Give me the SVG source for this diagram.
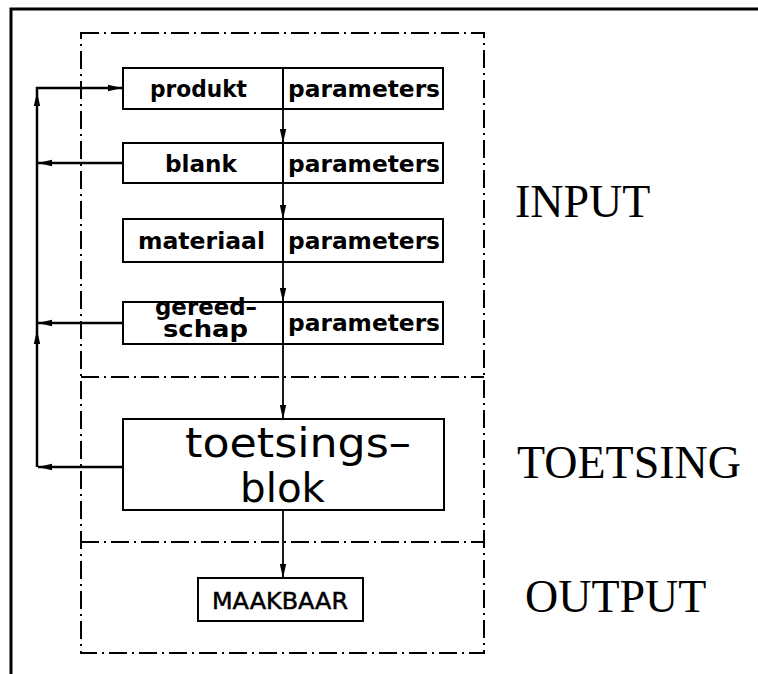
<svg xmlns="http://www.w3.org/2000/svg" width="758" height="674" viewBox="0 0 758 674">
  <style>
    .frame { fill: none; stroke: #000; stroke-width: 3; }
    .zone { fill: none; stroke: #000; stroke-width: 2; stroke-dasharray: 18 5 2 5; }
    .box { fill: #fff; stroke: #000; stroke-width: 2; }
    .cell { stroke: #000; stroke-width: 2; }
    .wire { fill: none; stroke: #000; stroke-width: 2.5; }
    .flow { fill: none; stroke: #000; stroke-width: 1.8; }
    .lbl { font-family: "DejaVu Sans", "Liberation Sans", sans-serif; font-weight: bold; font-size: 23px; fill: #000; }
    .big { font-family: "DejaVu Sans", "Liberation Sans", sans-serif; font-size: 40px; fill: #000; }
    .out { font-family: "DejaVu Sans", "Liberation Sans", sans-serif; font-size: 23px; fill: #000; stroke: #000; stroke-width: 0.5; }
    .zone-name { font-family: "Liberation Serif", "Times New Roman", serif; font-size: 46px; fill: #000; }
  </style>
  <defs>
    <marker id="arrow" viewBox="0 0 14 8" refX="14" refY="4" markerWidth="14" markerHeight="8" markerUnits="userSpaceOnUse" orient="auto">
      <path d="M0,0.8 L14,4 L0,7.2 Z" fill="#000"/>
    </marker>
  </defs>

  <rect width="758" height="674" fill="#fff"/>

  <!-- page frame (left and top edges) -->
  <path class="frame" d="M11,674 V9 H758"/>

  <!-- zone outline and dividers -->
  <g id="zones">
    <rect class="zone" x="81" y="33" width="403" height="620"/>
    <line class="zone" x1="81" y1="377" x2="484" y2="377"/>
    <line class="zone" x1="81" y1="542" x2="484" y2="542"/>
  </g>

  <!-- connectors -->
  <g id="connectors">
    <!-- feedback loop on the left -->
    <path class="wire" d="M37,467 V330" marker-end="url(#arrow)"/>
    <path class="wire" d="M37,330 V92" marker-end="url(#arrow)"/>
    <path class="wire" d="M37,92 V88 H122" marker-end="url(#arrow)"/>
    <path class="wire" d="M123,163 H38" marker-end="url(#arrow)"/>
    <path class="wire" d="M123,323 H38" marker-end="url(#arrow)"/>
    <path class="wire" d="M123,467 H38" marker-end="url(#arrow)"/>
    <!-- downward flow through the blocks -->
    <path class="flow" d="M283,109 V143" marker-end="url(#arrow)"/>
    <path class="flow" d="M283,183 V219" marker-end="url(#arrow)"/>
    <path class="flow" d="M283,262 V302" marker-end="url(#arrow)"/>
    <path class="flow" d="M283,344 V419" marker-end="url(#arrow)"/>
    <path class="flow" d="M283,510 V578" marker-end="url(#arrow)"/>
  </g>

  <g id="produkt">
    <rect class="box" x="123" y="68" width="320" height="41"/>
    <line class="cell" x1="283" y1="68" x2="283" y2="109"/>
    <text class="lbl" x="150" y="97" textLength="97" lengthAdjust="spacingAndGlyphs">produkt</text>
    <text class="lbl" x="288" y="97" textLength="152" lengthAdjust="spacingAndGlyphs">parameters</text>
  </g>

  <g id="blank">
    <rect class="box" x="123" y="143" width="320" height="40"/>
    <line class="cell" x1="283" y1="143" x2="283" y2="183"/>
    <text class="lbl" x="165" y="172" textLength="72" lengthAdjust="spacingAndGlyphs">blank</text>
    <text class="lbl" x="288" y="172" textLength="152" lengthAdjust="spacingAndGlyphs">parameters</text>
  </g>

  <g id="materiaal">
    <rect class="box" x="123" y="219" width="320" height="43"/>
    <line class="cell" x1="283" y1="219" x2="283" y2="262"/>
    <text class="lbl" x="138" y="249" textLength="127" lengthAdjust="spacingAndGlyphs">materiaal</text>
    <text class="lbl" x="288" y="249" textLength="152" lengthAdjust="spacingAndGlyphs">parameters</text>
  </g>

  <g id="gereedschap">
    <rect class="box" x="123" y="302" width="320" height="42"/>
    <line class="cell" x1="283" y1="302" x2="283" y2="344"/>
    <text class="lbl" x="155" y="315" font-size="16" textLength="102" lengthAdjust="spacingAndGlyphs">gereed–</text>
    <text class="lbl" x="163" y="337" font-size="18" textLength="85" lengthAdjust="spacingAndGlyphs">schap</text>
    <text class="lbl" x="288" y="331" textLength="152" lengthAdjust="spacingAndGlyphs">parameters</text>
  </g>

  <g id="toetsingsblok">
    <rect class="box" x="123" y="419" width="321" height="91"/>
    <text class="big" x="185" y="457" textLength="226" lengthAdjust="spacingAndGlyphs">toetsings–</text>
    <text class="big" x="240" y="502" textLength="85" lengthAdjust="spacingAndGlyphs">blok</text>
  </g>

  <g id="maakbaar">
    <rect class="box" x="198" y="578" width="165" height="43"/>
    <text class="out" x="212" y="609" textLength="136" lengthAdjust="spacingAndGlyphs">MAAKBAAR</text>
  </g>

  <g id="zone-labels">
    <text class="zone-name" x="515" y="217">INPUT</text>
    <text class="zone-name" x="517" y="478">TOETSING</text>
    <text class="zone-name" x="525" y="612">OUTPUT</text>
  </g>
</svg>
